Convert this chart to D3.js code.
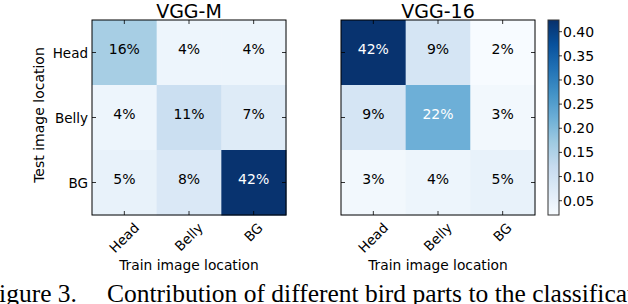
<!DOCTYPE html>
<html>
<head>
<meta charset="utf-8">
<script src="https://cdn.jsdelivr.net/npm/d3@7"></script>
<style>
  body { margin: 0; background: #fff; }
  svg { display: block; }
  text { font-family: "DejaVu Sans", sans-serif; }
  text.caption { font-family: "Liberation Serif", "Times New Roman", serif; }
</style>
</head>
<body>
<script>
const locations = ["Head", "Belly", "BG"];
const titles = ["VGG-M", "VGG-16"];
// percent values, rows = test location, cols = train location
const vggM = [[16, 4, 4], [4, 11, 7], [5, 8, 42]];
const vgg16 = [[42, 9, 2], [9, 22, 3], [3, 4, 5]];
const cbTicks = [0.05, 0.10, 0.15, 0.20, 0.25, 0.30, 0.35, 0.40];
const vmin = 0.0204, vmax = 0.4242;

const W = 628, H = 304;
const svg = d3.select("body").append("svg").attr("width", W).attr("height", H);

const yTop = 20, yBot = 215;
const panels = [
    { x0: 92, x1: 286, data: vggM, title: titles[0], ylab: true },
    { x0: 341, x1: 535, data: vgg16, title: titles[1], ylab: false }
];

// matplotlib "Blues" = linear ramp through the 9 ColorBrewer colours
const blues = d3.piecewise(d3.interpolateRgb, d3.schemeBlues[9]);
const color = v => blues((v / 100 - vmin) / (vmax - vmin));

const y = d3.scaleBand().domain(locations).range([yTop, yBot]);

for (let p of panels) {
    const x = d3.scaleBand().domain(locations).range([p.x0, p.x1]);
    const g = svg.append("g");

    const cells = [];
    p.data.forEach((row, i) => row.forEach((v, j) => cells.push({ r: locations[i], c: locations[j], v: v })));

    g.selectAll("rect.cell").data(cells).join("rect")
        .attr("x", d => x(d.c))
        .attr("y", d => y(d.r))
        .attr("width", x.bandwidth() + 0.5)
        .attr("height", y.bandwidth() + 0.5)
        .attr("fill", d => color(d.v));

    g.selectAll("text.val").data(cells).join("text")
        .attr("x", d => x(d.c) + x.bandwidth() / 2)
        .attr("y", d => y(d.r) + y.bandwidth() / 2 + 1.4)
        .attr("text-anchor", "middle")
        .attr("font-size", 14)
        .attr("fill", d => d.v > 21 ? "#fff" : "#000")
        .text(d => d.v + "%");

    // ticks, matplotlib classic style (pointing in, all four sides)
    for (let l of locations) {
        const cx = x(l) + x.bandwidth() / 2;
        const cy = y(l) + y.bandwidth() / 2;
        g.append("line").attr("x1", cx).attr("x2", cx).attr("y1", yTop).attr("y2", yTop + 4);
        g.append("line").attr("x1", cx).attr("x2", cx).attr("y1", yBot).attr("y2", yBot - 4);
        g.append("line").attr("x1", p.x0).attr("x2", p.x0 + 4).attr("y1", cy).attr("y2", cy);
        g.append("line").attr("x1", p.x1).attr("x2", p.x1 - 4).attr("y1", cy).attr("y2", cy);
    }
    g.selectAll("line").attr("stroke", "#000").attr("stroke-width", 0.8);

    g.append("rect")
        .attr("x", p.x0).attr("y", yTop)
        .attr("width", p.x1 - p.x0).attr("height", yBot - yTop)
        .attr("fill", "none").attr("stroke", "#000").attr("stroke-width", 1);

    // y tick labels
    if (p.ylab) {
        g.selectAll("text.yl").data(locations).join("text")
            .attr("x", p.x0 - 4)
            .attr("y", d => y(d) + y.bandwidth() / 2 + 5)
            .attr("text-anchor", "end")
            .attr("font-size", 13.5)
            .text(d => d);
    }

    // x tick labels rotated 45
    g.selectAll("text.xl").data(locations).join("text")
        .attr("font-size", 13.5)
        .attr("text-anchor", "middle")
        .text(d => d)
        .each(function (d) {
            const w = this.getComputedTextLength();
            const cx = x(d) + x.bandwidth() / 2;
            const cy = 222 + (w + 10) * Math.SQRT1_2 / 2;
            d3.select(this)
                .attr("x", cx).attr("y", cy + 4.5)
                .attr("transform", `rotate(-45,${cx},${cy})`);
        });

    g.append("text")
        .attr("x", (p.x0 + p.x1) / 2).attr("y", 17.5)
        .attr("text-anchor", "middle")
        .attr("font-size", 19)
        .text(p.title);

    g.append("text")
        .attr("x", (p.x0 + p.x1) / 2).attr("y", 270)
        .attr("text-anchor", "middle")
        .attr("font-size", 13.8)
        .text("Train image location");

    if (p.ylab) {
        g.append("text")
            .attr("transform", `translate(44,115) rotate(-90)`)
            .attr("text-anchor", "middle")
            .attr("font-size", 14)
            .text("Test image location");
    }
}

// colorbar
const cbX = 548, cbW = 11;
const cb = d3.scaleLinear().domain([vmin, vmax]).range([yBot, yTop]);
const grad = svg.append("defs").append("linearGradient")
    .attr("id", "cbgrad").attr("x1", 0).attr("x2", 0).attr("y1", 1).attr("y2", 0);
d3.range(0, 1.0001, 0.025).forEach(t => {
    grad.append("stop").attr("offset", t).attr("stop-color", blues(t));
});
svg.append("rect")
    .attr("x", cbX).attr("y", yTop).attr("width", cbW).attr("height", yBot - yTop)
    .attr("fill", "url(#cbgrad)")
    .attr("stroke", "#333").attr("stroke-width", 1);

const cbAxis = svg.append("g");
cbAxis.selectAll("line").data(cbTicks).join("line")
    .attr("x1", cbX + cbW).attr("x2", cbX + cbW + 3)
    .attr("y1", d => cb(d)).attr("y2", d => cb(d))
    .attr("stroke", "#000").attr("stroke-width", 0.8);
cbAxis.selectAll("text").data(cbTicks).join("text")
    .attr("x", cbX + cbW + 4)
    .attr("y", d => cb(d) + 5)
    .attr("font-size", 14)
    .text(d => d3.format(".2f")(d));

// caption (cut off by the page edge, as in the source figure)
svg.append("text").attr("class", "caption")
    .attr("x", 77).attr("y", 302)
    .attr("text-anchor", "end")
    .attr("font-size", 25.5)
    .text("Figure 3.");
svg.append("text").attr("class", "caption")
    .attr("x", 107).attr("y", 302)
    .attr("font-size", 25.5)
    .text("Contribution of different bird parts to the classification");
</script>
</body>
</html>
